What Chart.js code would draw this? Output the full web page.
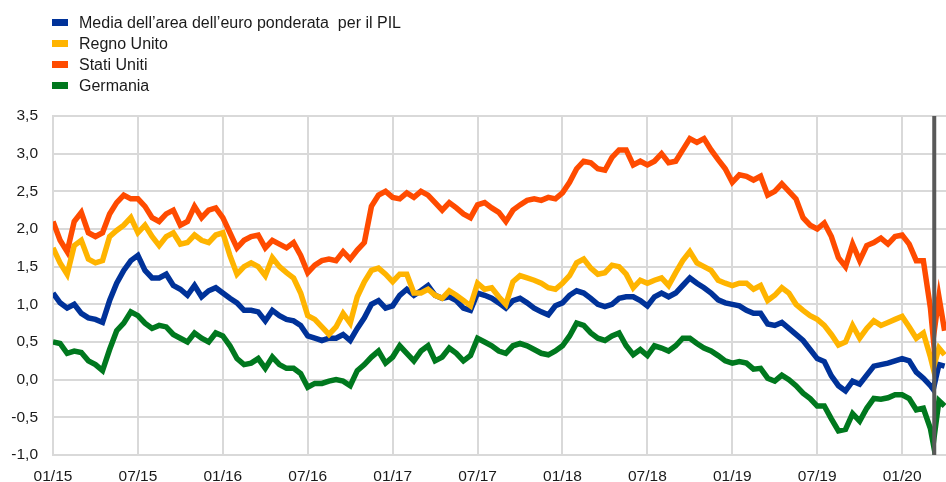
<!DOCTYPE html>
<html lang="it">
<head>
<meta charset="utf-8">
<script src="https://cdn.jsdelivr.net/npm/chart.js@4"></script>
<style>
    html, body { margin: 0; padding: 0; background: #fff; }
    #wrap { position: relative; width: 946px; height: 482px; }
    #chart { position: absolute; left: 0; top: 0; }
    #legend { position: absolute; left: 52px; top: 12px; font-family: 'Liberation Sans', Arial, sans-serif; font-size: 16px; color: #1a1a1a; }
    #legend div { height: 21px; line-height: 21px; white-space: pre; }
    #legend span.box { display: inline-block; width: 16px; height: 7px; margin-right: 11px; vertical-align: middle; position: relative; top: -1px; }
</style>
</head>
<body>
<div id="wrap">
    <canvas id="chart" width="946" height="482"></canvas>
    <div id="legend"></div>
</div>
<script>
const months = [
    0, 0.5, 1, 1.5, 2, 2.5, 3, 3.5, 4, 4.5,
    5, 5.5, 6, 6.5, 7, 7.5, 8, 8.5, 9, 9.5,
    10, 10.5, 11, 11.5, 12, 12.5, 13, 13.5, 14, 14.5,
    15, 15.5, 16, 16.5, 17, 17.5, 18, 18.5, 19, 19.5,
    20, 20.5, 21, 21.5, 22, 22.5, 23, 23.5, 24, 24.5,
    25, 25.5, 26, 26.5, 27, 27.5, 28, 28.5, 29, 29.5,
    30, 30.5, 31, 31.5, 32, 32.5, 33, 33.5, 34, 34.5,
    35, 35.5, 36, 36.5, 37, 37.5, 38, 38.5, 39, 39.5,
    40, 40.5, 41, 41.5, 42, 42.5, 43, 43.5, 44, 44.5,
    45, 45.5, 46, 46.5, 47, 47.5, 48, 48.5, 49, 49.5,
    50, 50.5, 51, 51.5, 52, 52.5, 53, 53.5, 54, 54.5,
    55, 55.5, 56, 56.5, 57, 57.5, 58, 58.5, 59, 59.5,
    60, 60.5, 61, 61.5, 62, 62.2, 62.6, 63
];

const euroArea = [
    1.15, 1.02, 0.95, 1.00, 0.88, 0.82, 0.80, 0.76, 1.05, 1.28,
    1.45, 1.58, 1.65, 1.45, 1.35, 1.35, 1.40, 1.25, 1.20, 1.12,
    1.25, 1.10, 1.18, 1.22, 1.15, 1.08, 1.02, 0.92, 0.92, 0.90,
    0.78, 0.92, 0.85, 0.80, 0.78, 0.72, 0.58, 0.55, 0.52, 0.55,
    0.55, 0.60, 0.52, 0.68, 0.82, 1.00, 1.05, 0.95, 0.98, 1.12,
    1.20, 1.12, 1.18, 1.25, 1.12, 1.08, 1.10, 1.05, 0.95, 0.92,
    1.15, 1.12, 1.08, 1.02, 0.95, 1.05, 1.08, 1.02, 0.95, 0.90,
    0.86, 0.98, 1.02, 1.12, 1.18, 1.15, 1.08, 1.00, 0.97, 1.00,
    1.08, 1.10, 1.10, 1.05, 0.98, 1.10, 1.15, 1.10, 1.15, 1.25,
    1.35, 1.28, 1.22, 1.15, 1.06, 1.02, 1.00, 0.98, 0.92, 0.88,
    0.88, 0.74, 0.72, 0.76, 0.68, 0.60, 0.52, 0.40, 0.28, 0.24,
    0.05, -0.08, -0.15, -0.02, -0.06, 0.06, 0.18, 0.20, 0.22, 0.25,
    0.28, 0.25, 0.10, 0.02, -0.08, -0.13, 0.20, 0.18
];

const regnoUnito = [
    1.75, 1.55, 1.40, 1.78, 1.85, 1.60, 1.55, 1.58, 1.90, 1.98,
    2.05, 2.15, 1.95, 2.05, 1.90, 1.78, 1.90, 1.95, 1.80, 1.82,
    1.92, 1.85, 1.82, 1.92, 1.95, 1.65, 1.40, 1.50, 1.55, 1.50,
    1.38, 1.62, 1.50, 1.42, 1.35, 1.15, 0.85, 0.80, 0.70, 0.60,
    0.70, 0.88, 0.75, 1.10, 1.30, 1.45, 1.48, 1.40, 1.30, 1.40,
    1.40, 1.15, 1.15, 1.20, 1.12, 1.08, 1.18, 1.12, 1.05, 0.98,
    1.28, 1.20, 1.22, 1.10, 1.00, 1.30, 1.38, 1.35, 1.32, 1.28,
    1.22, 1.20, 1.28, 1.38, 1.55, 1.60, 1.48, 1.40, 1.42, 1.52,
    1.50, 1.40, 1.22, 1.32, 1.28, 1.32, 1.35, 1.25, 1.42, 1.58,
    1.70, 1.55, 1.50, 1.45, 1.32, 1.28, 1.25, 1.28, 1.28, 1.20,
    1.25, 1.05, 1.12, 1.22, 1.15, 1.00, 0.92, 0.85, 0.80, 0.72,
    0.60, 0.46, 0.50, 0.72, 0.55, 0.68, 0.78, 0.72, 0.76, 0.80,
    0.84, 0.70, 0.55, 0.62, 0.30, 0.15, 0.42, 0.33
];

const statiUniti = [
    2.10, 1.85, 1.70, 2.10, 2.22, 1.95, 1.90, 1.95, 2.20, 2.35,
    2.45, 2.40, 2.40, 2.30, 2.15, 2.10, 2.20, 2.25, 2.05, 2.10,
    2.30, 2.15, 2.25, 2.28, 2.15, 1.95, 1.75, 1.85, 1.90, 1.92,
    1.75, 1.85, 1.80, 1.75, 1.82, 1.65, 1.42, 1.52, 1.58, 1.60,
    1.58, 1.70, 1.60, 1.72, 1.82, 2.30, 2.45, 2.50, 2.42, 2.40,
    2.48, 2.42, 2.50, 2.45, 2.35, 2.25, 2.35, 2.28, 2.20, 2.15,
    2.32, 2.35, 2.28, 2.22, 2.10, 2.25, 2.32, 2.38, 2.40, 2.38,
    2.42, 2.40, 2.48, 2.62, 2.80, 2.90, 2.88, 2.80, 2.78, 2.95,
    3.05, 3.05, 2.85, 2.90, 2.85, 2.90, 3.00, 2.88, 2.90, 3.05,
    3.20, 3.15, 3.20, 3.05, 2.92, 2.80, 2.62, 2.72, 2.70, 2.65,
    2.70, 2.45, 2.50, 2.60, 2.50, 2.40, 2.15, 2.05, 2.00, 2.08,
    1.90, 1.62, 1.50, 1.80, 1.58, 1.78, 1.82, 1.88, 1.80, 1.90,
    1.92, 1.80, 1.58, 1.58, 0.95, 0.55, 1.10, 0.65
];

const germania = [
    0.50, 0.48, 0.35, 0.38, 0.36, 0.25, 0.20, 0.12, 0.40, 0.65,
    0.75, 0.90, 0.85, 0.75, 0.68, 0.72, 0.70, 0.60, 0.55, 0.50,
    0.62, 0.55, 0.50, 0.62, 0.58, 0.45, 0.28, 0.20, 0.22, 0.28,
    0.15, 0.30, 0.20, 0.15, 0.15, 0.08, -0.10, -0.05, -0.05, -0.02,
    0.00, -0.02, -0.08, 0.12, 0.20, 0.30, 0.38, 0.22, 0.30, 0.45,
    0.35, 0.25, 0.38, 0.45, 0.25, 0.30, 0.42, 0.35, 0.25, 0.32,
    0.55, 0.50, 0.45, 0.38, 0.35, 0.45, 0.48, 0.45, 0.40, 0.35,
    0.33, 0.38, 0.45, 0.58, 0.75, 0.72, 0.62, 0.55, 0.52, 0.58,
    0.62, 0.45, 0.33, 0.40, 0.32, 0.45, 0.42, 0.38, 0.45, 0.55,
    0.55, 0.48, 0.42, 0.38, 0.32, 0.25, 0.22, 0.24, 0.22, 0.14,
    0.15, 0.02, -0.02, 0.06, 0.00, -0.08, -0.18, -0.25, -0.35, -0.35,
    -0.52, -0.68, -0.66, -0.45, -0.55, -0.38, -0.25, -0.26, -0.24, -0.20,
    -0.20, -0.25, -0.40, -0.38, -0.65, -0.85, -0.28, -0.35
];

const seriesLabels = ['Media dell\u2019area dell\u2019euro ponderata  per il PIL', 'Regno Unito', 'Stati Uniti', 'Germania'];
const seriesColors = ['#003299', '#FFB400', '#FF4B00', '#00781E'];

// Etichette asse x (ogni 6 mesi) e asse y
const xTickMonths = [0, 6, 12, 18, 24, 30, 36, 42, 48, 54, 60];
const xTickLabels = ['01/15', '07/15', '01/16', '07/16', '01/17', '07/17', '01/18', '07/18', '01/19', '07/19', '01/20'];
const markerMonth = 62.27; // linea verticale (inizio marzo 2020)

const toPoints = vals => vals.map((v, i) => ({ x: months[i], y: v }));
const allValues = [euroArea, regnoUnito, statiUniti, germania];

// Legenda in HTML (verticale come nell'originale)
const legendEl = document.getElementById('legend');
seriesLabels.forEach((lab, i) => {
    const row = document.createElement('div');
    row.innerHTML = '<span class="box" style="background:' + seriesColors[i] + '"></span>' + lab;
    legendEl.appendChild(row);
});

// Linea verticale grigia
const markerLine = {
    id: 'markerLine',
    afterDatasetsDraw(chart) {
        const { ctx, chartArea, scales } = chart;
        const x = scales.x.getPixelForValue(markerMonth);
        ctx.save();
        ctx.strokeStyle = '#595959';
        ctx.lineWidth = 4;
        ctx.beginPath();
        ctx.moveTo(x, chartArea.top);
        ctx.lineTo(x, chartArea.bottom);
        ctx.stroke();
        ctx.restore();
    }
};

const fontTicks = { family: "'Liberation Sans', Arial, sans-serif", size: 15.5 };

new Chart(document.getElementById('chart').getContext('2d'), {
    type: 'line',
    data: {
        datasets: allValues.map((vals, i) => ({
            label: seriesLabels[i],
            data: toPoints(vals),
            borderColor: seriesColors[i],
            backgroundColor: seriesColors[i],
            borderWidth: 5.5,
            pointRadius: 0,
            tension: 0,
            order: 4 - i
        }))
    },
    options: {
        responsive: false,
        animation: false,
        devicePixelRatio: 1,
        layout: { padding: { top: 116, left: 0, right: 0, bottom: 0 } },
        plugins: {
            legend: { display: false },
            tooltip: { enabled: false }
        },
        scales: {
            x: {
                type: 'linear',
                min: 0,
                max: 63.1,
                afterBuildTicks: scale => { scale.ticks = xTickMonths.map(v => ({ value: v })); },
                afterFit: scale => { scale.height = 27; },
                grid: { color: '#d9d9d9', lineWidth: 2, drawTicks: false },
                border: { color: '#d9d9d9', width: 2 },
                ticks: {
                    padding: 12,
                    maxRotation: 0,
                    autoSkip: false,
                    color: '#1a1a1a',
                    font: fontTicks,
                    callback: value => xTickLabels[xTickMonths.indexOf(value)]
                }
            },
            y: {
                min: -1,
                max: 3.5,
                afterFit: scale => { scale.width = 53; },
                grid: { color: '#d9d9d9', lineWidth: 2, drawTicks: false },
                border: { color: '#d9d9d9', width: 2 },
                ticks: {
                    stepSize: 0.5,
                    padding: 15,
                    color: '#1a1a1a',
                    font: fontTicks,
                    callback: value => value.toFixed(1).replace('.', ',')
                }
            }
        }
    },
    plugins: [markerLine]
});
</script>
</body>
</html>
